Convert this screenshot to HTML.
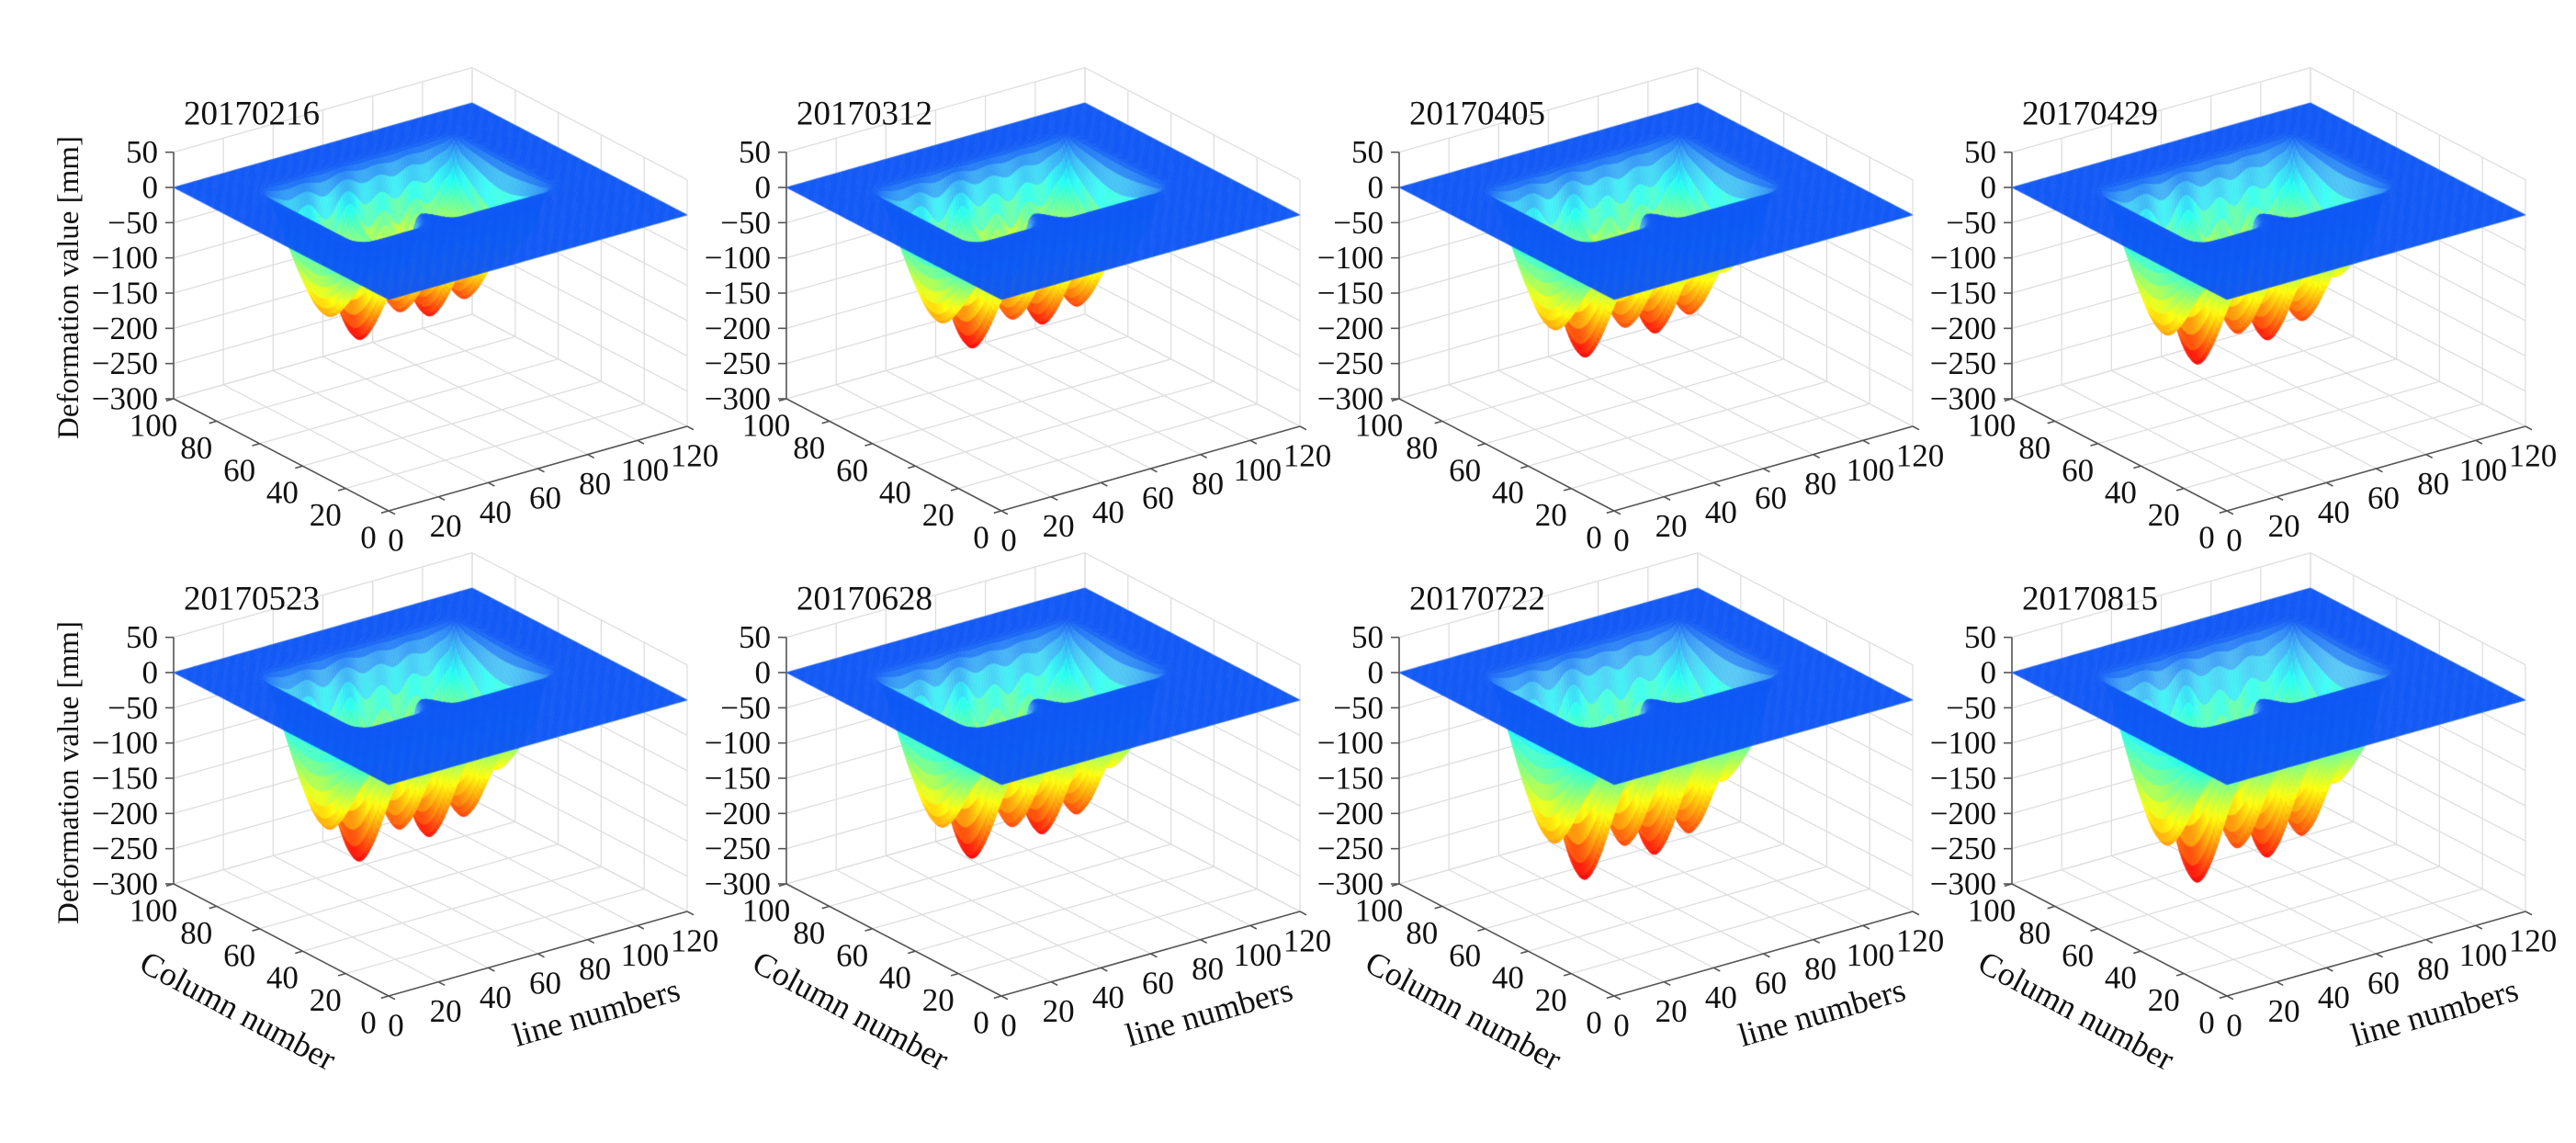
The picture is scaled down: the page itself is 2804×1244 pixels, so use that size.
<!DOCTYPE html>
<html><head><meta charset="utf-8">
<style>
html,body{margin:0;padding:0;background:#fff;}
#wrap{position:relative;width:2804px;height:1244px;overflow:hidden;}
svg,canvas{position:absolute;left:0;top:0;}
text{font-family:"Liberation Serif",serif;fill:#111;}
</style></head>
<body>
<div id="wrap">
<svg id="axes" width="2804" height="1244"></svg>
<canvas id="surf" width="2804" height="1244"></canvas>
</div>
<script>
// ---- data ----
const dates = ["20170216","20170312","20170405","20170429","20170523","20170628","20170722","20170815"];
const maxDepth = [210,222,235,245,262,258,288,292];
const zTicks = [50,0,-50,-100,-150,-200,-250,-300];
const colTicks = [0,20,40,60,80,100];
const lineTicks = [0,20,40,60,80,100,120];
const bowlLine = [32,46,62,74,86,97];
const bowlCol = [66,68,68,68,66,60];
const bowlRel = [0.7,1.0,0.85,0.95,0.85,0.65];
const pitBase = 0.25;

// ---- projection ----
const NS="http://www.w3.org/2000/svg";
const svg=document.getElementById('axes');
const Fx=423,Fy=326,ux=325/120,uy=-92/120,vx=-234/100,vy=-122/100,zs=230/300;
function P(k,l,c,z){const ox=(k%4)*667,oy=Math.floor(k/4)*528;
  return [ox+Fx+l*ux+c*vx, oy+Fy+l*uy+c*vy-z*zs];}
function line(a,b,col,w,name){const e=document.createElementNS(NS,'line');
  e.setAttribute('x1',a[0]);e.setAttribute('y1',a[1]);e.setAttribute('x2',b[0]);e.setAttribute('y2',b[1]);
  e.setAttribute('stroke',col);e.setAttribute('stroke-width',w);
  
  
  svg.appendChild(e);return e;}
function text(x,y,s,size,anchor,rot,name){const e=document.createElementNS(NS,'text');
  e.setAttribute('x',x);e.setAttribute('y',y);e.setAttribute('font-size',size);
  e.setAttribute('text-anchor',anchor);e.setAttribute('dominant-baseline','central');
  if(rot)e.setAttribute('transform','rotate('+rot+' '+x+' '+y+')');
  e.textContent=s;
  
  
  svg.appendChild(e);return e;}

const GC='#dedede', AC='#555';
for(let k=0;k<8;k++){
  lineTicks.forEach(l=>line(P(k,l,0,-300),P(k,l,100,-300),GC,1.3,'floor-grid'));
  colTicks.forEach(c=>line(P(k,0,c,-300),P(k,120,c,-300),GC,1.3,'floor-grid'));
  lineTicks.forEach(l=>line(P(k,l,100,-300),P(k,l,100,50),GC,1.3,'wall-grid'));
  zTicks.forEach(z=>line(P(k,0,100,z),P(k,120,100,z),GC,1.3,'wall-grid'));
  colTicks.forEach(c=>line(P(k,120,c,-300),P(k,120,c,50),GC,1.3,'wall-grid'));
  zTicks.forEach(z=>line(P(k,120,0,z),P(k,120,100,z),GC,1.3,'wall-grid'));
  line(P(k,0,100,-300),P(k,0,100,50),AC,1.6,'z-axis');
  line(P(k,0,100,-300),P(k,0,0,-300),AC,1.6,'column-axis');
  line(P(k,0,0,-300),P(k,120,0,-300),AC,1.6,'line-axis');
  zTicks.forEach(z=>{const p=P(k,0,100,z);line(p,[p[0]-9,p[1]],AC,1.6,'z-tick');
    text(p[0]-17,p[1],z<0?'\u2212'+(-z):String(z),35,'end',0,'z-tick-label');});
  colTicks.forEach(c=>{const p=P(k,0,c,-300);line(p,[p[0]-ux*3,p[1]-uy*3],AC,1.6,'column-tick');
    text(p[0]-22,p[1]+29,String(c),35,'middle',0,'column-tick-label');});
  lineTicks.forEach(l=>{const p=P(k,l,0,-300);line(p,[p[0]-vx*3,p[1]-vy*3],AC,1.6,'line-tick');
    text(p[0]+8,p[1]+32,String(l),35,'middle',0,'line-tick-label');});
  const ox=(k%4)*667,oy=Math.floor(k/4)*528;
  text(200+ox,124+oy,dates[k],37,'start',0,'panel-title');
  if(k%4===0) text(75+ox,313+oy,'Deformation value [mm]',33,'middle',-90,'z-axis-title');
  if(k>=4){
    text(259+ox,572+oy,'Column number',36,'middle',28,'column-axis-title');
    text(649+ox,574+oy,'line numbers',36,'middle',-16,'line-axis-title');
  }
}

// ---- surface ----
const ctx=document.getElementById('surf').getContext('2d');
function sig(x){return 1/(1+Math.exp(-x));}
function jet(t){const r=Math.min(1,Math.max(0,Math.min(4*t-1.5,-4*t+4.5)));
  const g=Math.min(1,Math.max(0,Math.min(4*t-0.5,-4*t+3.5)));
  const b=Math.min(1,Math.max(0,Math.min(4*t+0.5,-4*t+2.5)));return [r,g,b];}
const NL=120,NC=100;
const shape=[];let smax=0;
for(let l=0;l<=NL;l++){shape[l]=[];for(let c=0;c<=NC;c++){
  const cf=40+8*Math.exp(-Math.pow((l-52)/4,2));
  const m=sig((l-23)/1.0)*sig((97-l)/1.0)*sig((c-cf)/1.0)*sig((82-c)/1.0);
  let s=pitBase;
  for(let b=0;b<bowlLine.length;b++){
    const dl=l-bowlLine[b],dc=c-bowlCol[b];
    s+=bowlRel[b]*Math.exp(-(dl*dl/(2*16)+dc*dc/(2*144)));
  }
  s*=m;shape[l][c]=s;if(s>smax)smax=s;}}
for(let k=0;k<8;k++){
  const D=maxDepth[k];
  const Z=(l,c)=>-shape[l][c]/smax*D;
  for(let s=NL+NC-2;s>=0;s--){
    for(let i=Math.max(0,s-(NC-1));i<=Math.min(NL-1,s);i++){
      const j=s-i;
      const z00=Z(i,j),z10=Z(i+1,j),z11=Z(i+1,j+1),z01=Z(i,j+1);
      const za=(z00+z10+z11+z01)/4;
      const f=-za/D;
      const slope=Math.max(Math.abs(z10-z00),Math.abs(z01-z00),Math.abs(z11-z10),Math.abs(z11-z01));
      const t=0.2+0.7*f;
      const cc=jet(t);
      const lk=0.06+Math.min(0.4,slope/80)*Math.max(0,1-f/0.45);
      const r=Math.round(255*(cc[0]+(1-cc[0])*lk)),g=Math.round(255*(cc[1]+(1-cc[1])*lk)),b=Math.round(255*(cc[2]+(1-cc[2])*lk)*0.96);
      const col='rgb('+r+','+g+','+b+')';
      const a=P(k,i,j,z00),bb=P(k,i+1,j,z10),c2=P(k,i+1,j+1,z11),d=P(k,i,j+1,z01);
      ctx.beginPath();ctx.moveTo(a[0],a[1]);ctx.lineTo(bb[0],bb[1]);ctx.lineTo(c2[0],c2[1]);ctx.lineTo(d[0],d[1]);ctx.closePath();
      ctx.fillStyle=col;ctx.strokeStyle=col;ctx.lineWidth=0.5;ctx.fill();ctx.stroke();
    }
  }
}
</script>
</body></html>
